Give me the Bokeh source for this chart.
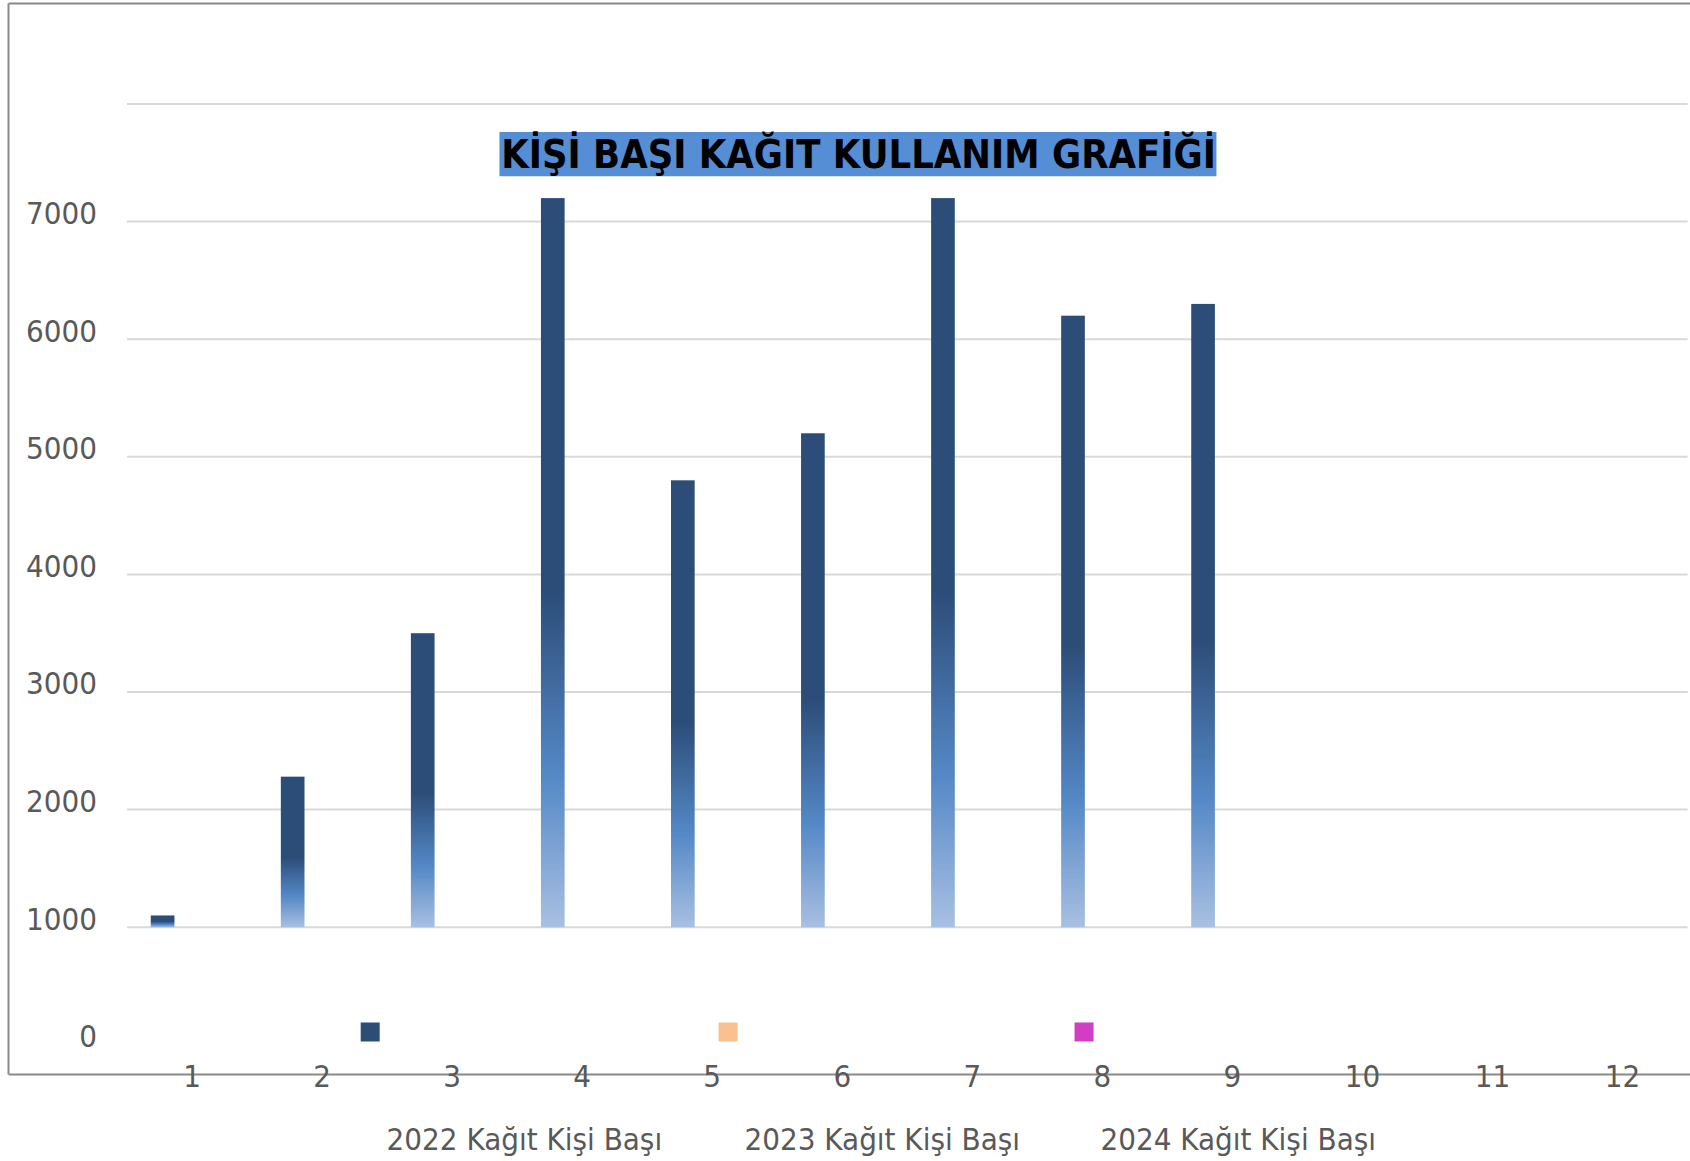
import numpy as np
from bokeh.plotting import figure
from bokeh.models import Range1d, LinearAxis, FixedTicker, Label, BoxAnnotation
from bokeh.embed import file_html
from bokeh.resources import INLINE

# ---------------- data ----------------
months = [1, 2, 3, 4, 5, 6, 7, 8, 9, 10, 11, 12]
kagit_2022 = [1100, 2280, 3500, 7200, 4800, 5200, 7200, 6200, 6300]
kagit_2023 = []
kagit_2024 = []
series_names = ["2022 Kağıt Kişi Başı", "2023 Kağıt Kişi Başı", "2024 Kağıt Kişi Başı"]
series_colors = ["#2c4d75", "#fac090", "#d13dc3"]
y_tick_values = [0, 1000, 2000, 3000, 4000, 5000, 6000, 7000]
grid_values = [1000, 2000, 3000, 4000, 5000, 6000, 7000, 8000]
baseline = 1000
title_text = "KİŞİ BAŞI KAĞIT KULLANIM GRAFİĞİ"

# ---------------- layout / style ----------------
FONT = "DejaVu Sans Condensed"
TXT = "#595959"
AXC = "#898989"
W, H = 1690, 1161
Y0, Y1 = -992.3, 8854.6          # frame spans page y 3..1161
X0, X1 = -0.411, 12.522          # frame spans page x 8..1690
FRAME_H = 1158
PX_PER_UNIT = FRAME_H / (Y1 - Y0)
LABEL_SHIFT = 8.7 / PX_PER_UNIT
X_AXIS_AT = -252.6
BAR_OFFSET = -0.226
BAR_WIDTH = 0.182

p = figure(width=W, height=H, output_backend="svg", toolbar_location=None,
           x_range=Range1d(X0, X1), y_range=Range1d(Y0, Y1),
           x_axis_type=None, y_axis_type=None,
           min_border_left=8, min_border_right=0, min_border_top=3, min_border_bottom=0,
           outline_line_color=None, background_fill_color="white", border_fill_color="white")
p.extra_y_ranges = {"lab": Range1d(Y0 - LABEL_SHIFT, Y1 - LABEL_SHIFT)}

def border_axis(**kw):
    return LinearAxis(ticker=FixedTicker(ticks=[]), axis_line_color=AXC, axis_line_width=2,
                      major_tick_line_color=None, minor_tick_line_color=None,
                      major_tick_out=0, minor_tick_out=0, major_label_standoff=0, **kw)

p.add_layout(border_axis(), "above")
p.add_layout(border_axis(bounds=(X_AXIS_AT, Y1)), "left")

xaxis = LinearAxis(ticker=FixedTicker(ticks=months), fixed_location=X_AXIS_AT,
                   axis_line_color=AXC, axis_line_width=2,
                   major_tick_line_color=None, minor_tick_line_color=None,
                   major_tick_out=0, major_tick_in=0, minor_tick_out=0,
                   major_label_standoff=-10, major_label_text_font=FONT,
                   major_label_text_font_size="31px", major_label_text_color=TXT)
p.add_layout(xaxis, "below")

yaxis = LinearAxis(y_range_name="lab", ticker=FixedTicker(ticks=y_tick_values), fixed_location=0.5,
                   axis_line_color=None, major_tick_line_color=None, minor_tick_line_color=None,
                   major_tick_out=0, minor_tick_out=0, major_label_standoff=30,
                   major_label_text_font=FONT, major_label_text_font_size="31px",
                   major_label_text_color=TXT)
p.add_layout(yaxis, "left")

# gridlines spanning the category area
xs_lo = months[0] - 0.5
xs_hi = months[-1] + 0.5
p.segment(x0=[xs_lo] * len(grid_values), x1=[xs_hi] * len(grid_values),
          y0=grid_values, y1=grid_values, line_color="#d9d9d9", line_width=2)

# gradient bars drawn as vertical gradient images
stops = [(0.0, (44, 77, 120)), (0.54, (44, 77, 120)), (0.79, (84, 136, 198)), (1.0, (168, 192, 226))]

def grad(t):
    for (t0, c0), (t1, c1) in zip(stops[:-1], stops[1:]):
        if t <= t1:
            f = 0 if t1 == t0 else (t - t0) / (t1 - t0)
            return [int(round(a + (b - a) * f)) for a, b in zip(c0, c1)]
    return list(stops[-1][1])

NR = 400
imgs = []
for v in kagit_2022:
    arr = np.zeros((NR, 1), dtype=np.uint32)
    view = arr.view(dtype=np.uint8).reshape((NR, 1, 4))
    for k in range(NR):
        r, g, b = grad(1 - (k + 0.5) / NR)
        view[k, 0, :] = [r, g, b, 255]
    imgs.append(arr)
n = len(kagit_2022)
p.image_rgba(image=imgs,
             x=[m + BAR_OFFSET - BAR_WIDTH / 2 for m in months[:n]],
             y=[baseline] * n,
             dw=[BAR_WIDTH] * n,
             dh=[v - baseline for v in kagit_2022])

# title
p.add_layout(BoxAnnotation(left=3.364, right=8.877, bottom=7386, top=7762,
                           fill_color="#558ed5", fill_alpha=1.0, line_color=None))
p.add_layout(Label(x=6.125, y=7574, text=title_text, text_align="center", text_baseline="middle",
                   text_font=FONT, text_font_style="bold", text_font_size="39.5px", text_color="black"))

# legend (as in reference: markers above the axis, labels below it)
legend_x = [2.496, 5.248, 7.985]
for name, col, lx in zip(series_names, series_colors, legend_x):
    p.rect(x=[lx - 0.126], y=[109], width=19, height=19, width_units="screen", height_units="screen",
           fill_color=col, line_color=None)
    p.add_layout(Label(x=lx, y=-805, text=name, text_align="left", text_baseline="middle",
                       text_font=FONT, text_font_size="31px", text_color=TXT))

open("out.html", "w").write(file_html(p, INLINE))
